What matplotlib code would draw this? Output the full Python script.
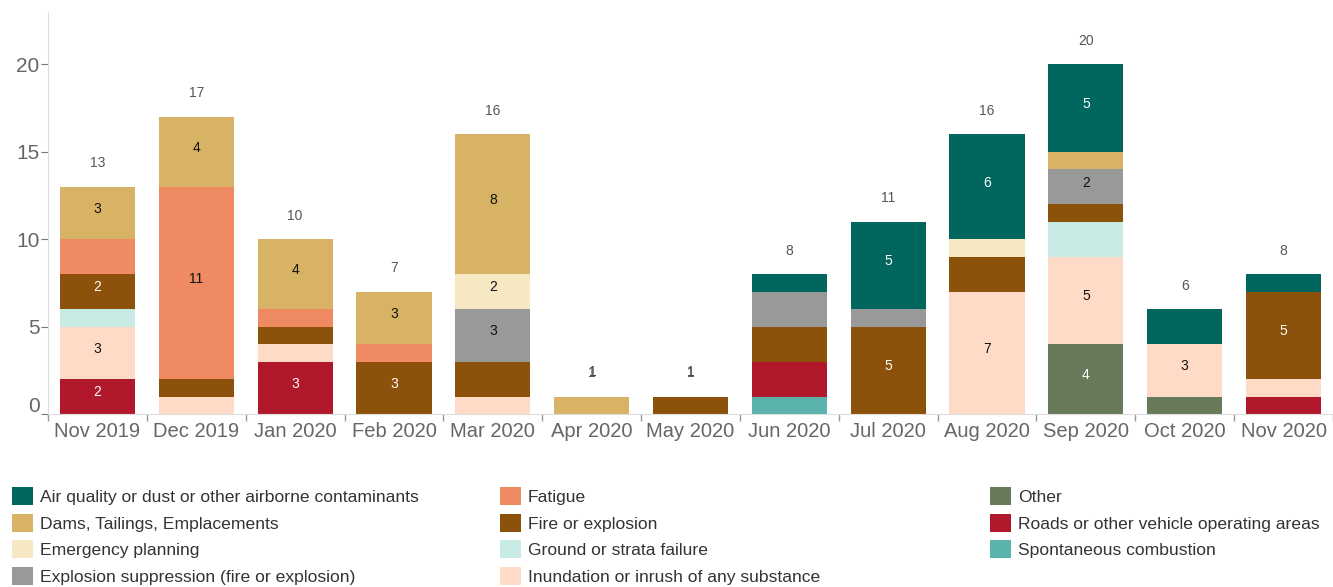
import matplotlib
matplotlib.use("Agg")
import matplotlib.pyplot as plt
from matplotlib.transforms import ScaledTranslation
import numpy as np

plt.rcParams['font.family'] = ['Liberation Sans', 'DejaVu Sans']

months = ["Nov 2019", "Dec 2019", "Jan 2020", "Feb 2020", "Mar 2020", "Apr 2020", "May 2020",
          "Jun 2020", "Jul 2020", "Aug 2020", "Sep 2020", "Oct 2020", "Nov 2020"]

categories = ["Air quality or dust or other airborne contaminants",
              "Dams, Tailings, Emplacements",
              "Emergency planning",
              "Explosion suppression (fire or explosion)",
              "Fatigue",
              "Fire or explosion",
              "Ground or strata failure",
              "Inundation or inrush of any substance",
              "Other",
              "Roads or other vehicle operating areas",
              "Spontaneous combustion"]

colors = ["#01665e", "#d8b365", "#f6e8c3", "#999999", "#ef8a62", "#8c510a",
          "#c7eae5", "#fddbc7", "#677b5a", "#b2182b", "#5ab4ac"]

#                 N19 D19 J20 F20 M20 A20 M20 J20 J20 A20 S20 O20 N20
air_quality   = [0,  0,  0,  0,  0,  0,  0,  1,  5,  6,  5,  2,  1]
dams          = [3,  4,  4,  3,  8,  1,  0,  0,  0,  0,  1,  0,  0]
emergency     = [0,  0,  0,  0,  2,  0,  0,  0,  0,  1,  0,  0,  0]
explosion_sup = [0,  0,  0,  0,  3,  0,  0,  2,  1,  0,  2,  0,  0]
fatigue       = [2, 11,  1,  1,  0,  0,  0,  0,  0,  0,  0,  0,  0]
fire          = [2,  1,  1,  3,  2,  0,  1,  2,  5,  2,  1,  0,  5]
ground        = [1,  0,  0,  0,  0,  0,  0,  0,  0,  0,  2,  0,  0]
inundation    = [3,  1,  1,  0,  1,  0,  0,  0,  0,  7,  5,  3,  1]
other         = [0,  0,  0,  0,  0,  0,  0,  0,  0,  0,  4,  1,  0]
roads         = [2,  0,  3,  0,  0,  0,  0,  2,  0,  0,  0,  0,  1]
spontaneous   = [0,  0,  0,  0,  0,  0,  0,  1,  0,  0,  0,  0,  0]

series = [air_quality, dams, emergency, explosion_sup, fatigue, fire,
          ground, inundation, other, roads, spontaneous]

# which segment values are printed inside the bars (as in the original)
labelled = {
    "Air quality or dust or other airborne contaminants": ["Jul 2020", "Aug 2020", "Sep 2020"],
    "Dams, Tailings, Emplacements": ["Nov 2019", "Dec 2019", "Jan 2020", "Feb 2020", "Mar 2020", "Apr 2020"],
    "Emergency planning": ["Mar 2020"],
    "Explosion suppression (fire or explosion)": ["Mar 2020", "Sep 2020"],
    "Fatigue": ["Dec 2019"],
    "Fire or explosion": ["Nov 2019", "Feb 2020", "May 2020", "Jul 2020", "Nov 2020"],
    "Ground or strata failure": [],
    "Inundation or inrush of any substance": ["Nov 2019", "Aug 2020", "Sep 2020", "Oct 2020"],
    "Other": ["Sep 2020"],
    "Roads or other vehicle operating areas": ["Nov 2019", "Jan 2020"],
    "Spontaneous combustion": [],
}
dark = {"#01665e", "#8c510a", "#677b5a", "#b2182b"}

fig = plt.figure(figsize=(13.33, 5.87), dpi=100)
ax = fig.add_axes([48/1333, 1 - 414/587, 1 - 48/1333, (414 - 12)/587])

x = np.arange(len(months))
width = 0.76
bottom = np.zeros(len(months))
containers = {}
# stack in reverse alphabetical order from the bottom
for name, vals, col in reversed(list(zip(categories, series, colors))):
    vals = np.array(vals, dtype=float)
    bc = ax.bar(x, vals, width, bottom=bottom, color=col, label=name, linewidth=0)
    containers[name] = bc
    for i, v in enumerate(vals):
        if v > 0 and months[i] in labelled[name]:
            tc = "white" if col in dark else "#111111"
            if v == 1:
                # small segment: label drawn above the bar, over the total
                ax.annotate(f"{int(v)}", (x[i], bottom[i] + v), xytext=(0.5, 18),
                            textcoords="offset points", ha="center", va="center",
                            fontsize=10, color="#444444")
            else:
                ax.annotate(f"{int(v)}", (x[i], bottom[i] + v / 2), xytext=(0, 3),
                            textcoords="offset points", ha="center", va="center",
                            fontsize=10, color=tc)
    bottom += vals

totals = bottom
for i, t in enumerate(totals):
    ax.annotate(f"{int(t)}", (x[i], t), xytext=(0, 17), textcoords="offset points",
                ha="center", va="center", fontsize=10, color="#555555")

ax.set_xlim(-0.5, len(months) - 0.5)
ax.set_ylim(0, 23)
ax.set_yticks([0, 5, 10, 15, 20])
ax.set_xticks(x)
ax.set_xticklabels(months)
ax.set_xticks(np.arange(len(months) + 1) - 0.5, minor=True)
ax.tick_params(axis="x", which="major", length=0, labelsize=14.5, labelcolor="#666666", pad=6)
ax.tick_params(axis="x", which="minor", length=5, color="#999999", width=1)
ax.tick_params(axis="y", length=5, color="#777777", labelsize=15, labelcolor="#666666", pad=1)
for s in ["top", "right"]:
    ax.spines[s].set_visible(False)
ax.spines["left"].set_color("#dddddd")
ax.spines["bottom"].set_color("#dddddd")

# the "0" label sits slightly above its tick in the original
zero_lab = ax.yaxis.get_major_ticks()[0].label1
zero_lab.set_transform(zero_lab.get_transform() + ScaledTranslation(0, 0.10, fig.dpi_scale_trans))

# legend in three fixed columns
groups = [categories[0:4], categories[4:8], categories[8:11]]
xs = [5/1333, 493/1333, 983/1333]
for g, gx in zip(groups, xs):
    leg = fig.legend([containers[n] for n in g], g, loc="upper left",
                     bbox_to_anchor=(gx, 1 - 480/587), frameon=False,
                     fontsize=12.6, handlelength=1.2, handleheight=1.2,
                     handletextpad=0.4, labelspacing=0.5, borderaxespad=0)
    for t in leg.get_texts():
        t.set_color("#333333")

fig.savefig("out.png", dpi=100)
